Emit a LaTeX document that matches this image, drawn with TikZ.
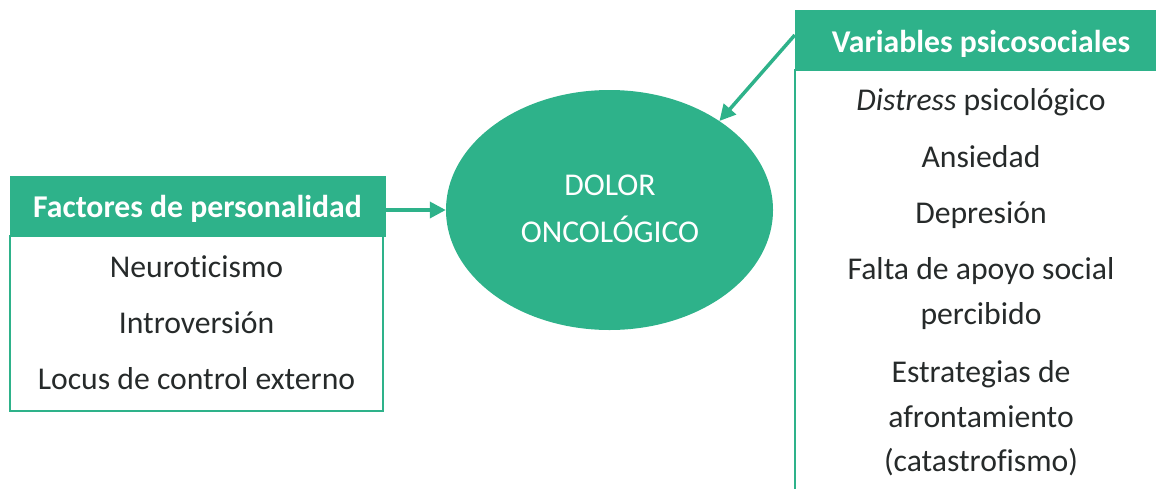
\documentclass[tikz,border=0pt]{standalone}
\usepackage{fontspec}
\setmainfont[Ligatures={NoCommon,NoContextual}]{Carlito}
\usetikzlibrary{arrows.meta,shapes.geometric}
\definecolor{jade}{RGB}{46,178,138}
\definecolor{ink}{RGB}{38,42,42}
\newcommand{\bodyfont}{\fontsize{31.7}{38}\selectfont}
\begin{document}
\begin{tikzpicture}[x=1pt,y=-1pt,
  hdr/.style={fill=jade, draw=jade, text=white, font=\bodyfont\bfseries,
    minimum height=60pt, inner sep=0pt, text depth=0pt, anchor=center},
  frame/.style={draw=jade, line width=1.4pt, inner sep=0pt},
  item/.style={text=ink, font=\bodyfont, anchor=base, inner sep=0pt},
  core/.style={text=white, font=\bodyfont, anchor=base, inner sep=0pt},
  link/.style={draw=jade, line width=3.5pt, -{Triangle[length=16pt,width=16pt]}}
]
\useasboundingbox (0,0) rectangle (1156,488);

% central ellipse
\node (dolor) at (609.5,210) [ellipse, fill=jade, minimum width=327pt,
  minimum height=240pt, inner sep=0pt] {};
\node[core] (dolorA) at (610,195) {DOLOR};
\node[core] (dolorB) at (610,242) {ONCOLÓGICO};

% personality factors
\node[frame, minimum width=373pt, minimum height=175pt] (lbody) at (196.5,323.5) {};
\node[hdr, minimum width=375pt, text height=22pt] (lhead) at (197.5,206) {Factores de personalidad};
\node[item] (l1) at (196.5,277) {Neuroticismo};
\node[item] (l2) at (196.5,333) {Introversión};
\node[item] (l3) at (196.5,389) {Locus de control externo};

% psychosocial variables
\node[frame, minimum width=372pt, minimum height=440pt] (rbody) at (981,290) {};
\node[hdr, minimum width=372pt, text height=24pt] (rhead) at (981,40) {Variables psicosociales};
\node[item] (r1) at (981,110) {\textit{Distress} psicológico};
\node[item] (r2) at (981,167) {Ansiedad};
\node[item] (r3) at (981,223) {Depresión};
\node[item] (r4a) at (981,279) {Falta de apoyo social};
\node[item] (r4b) at (981,324) {percibido};
\node[item] (r5a) at (981,382) {Estrategias de};
\node[item] (r5b) at (981,427) {afrontamiento};
\node[item] (r5c) at (981,471) {(catastrofismo)};

% connectors
\draw[link] (lhead.east |- dolor.west) -- (dolor.west);
\draw[link] ([yshift=5pt]rhead.west) -- (dolor.39);
\end{tikzpicture}
\end{document}
